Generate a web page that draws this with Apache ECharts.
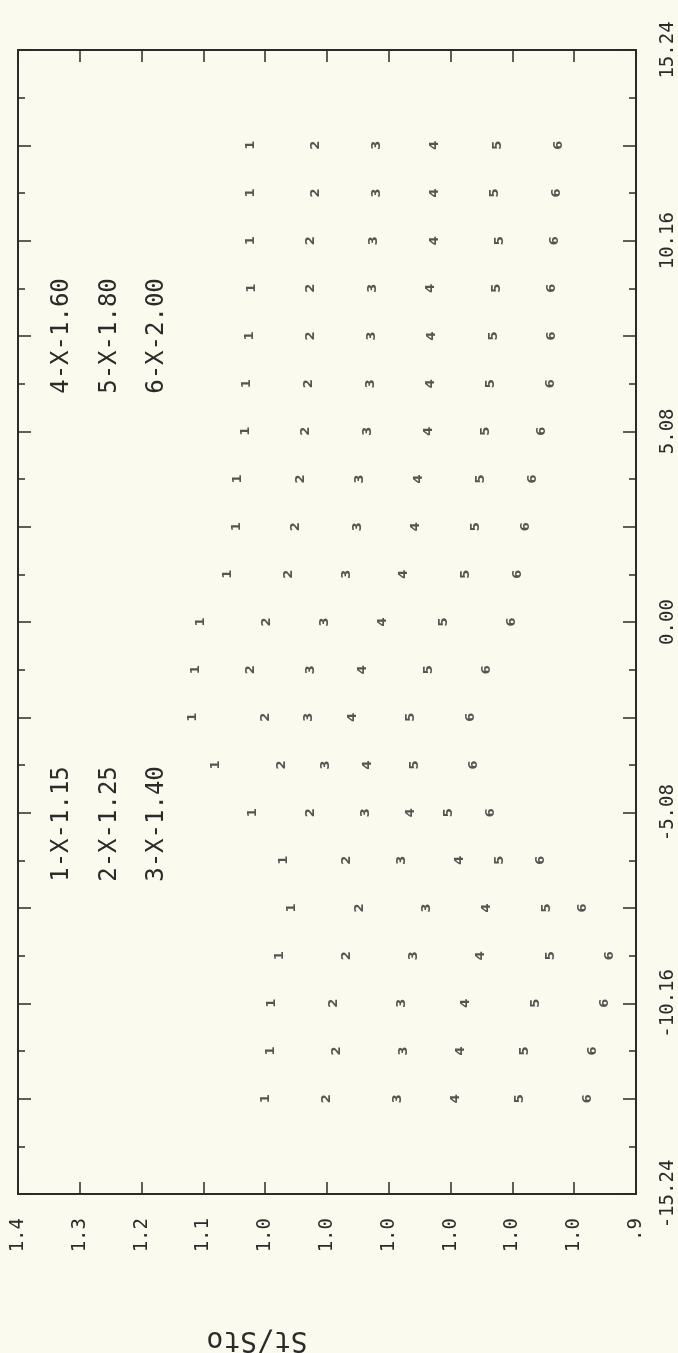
<!DOCTYPE html>
<html>
<head>
<meta charset="utf-8">
<script src="https://cdn.jsdelivr.net/npm/echarts@6/dist/echarts.min.js"></script>
<style>
  html, body { margin: 0; padding: 0; background: #fafaee; }
  #chart { width: 678px; height: 1353px; }
</style>
</head>
<body>
<div id="chart"></div>
<script>
// position along the traverse (drawn vertically, page is turned)
const positions = [-12.7, -11.43, -10.16, -8.89, -7.62, -6.35, -5.08, -3.81, -2.54, -1.27, 0,
  1.27, 2.54, 3.81, 5.08, 6.35, 7.62, 8.89, 10.16, 11.43, 12.7];

// St/Sto for each X case, same order as positions
const s1 = [1.200, 1.196, 1.195, 1.188, 1.179, 1.185, 1.210, 1.240, 1.259, 1.256, 1.252,
  1.230, 1.223, 1.222, 1.216, 1.215, 1.213, 1.211, 1.212, 1.212, 1.212];
const s2 = [1.150, 1.142, 1.145, 1.134, 1.124, 1.134, 1.163, 1.187, 1.200, 1.212, 1.199,
  1.181, 1.175, 1.171, 1.167, 1.165, 1.163, 1.163, 1.163, 1.159, 1.159];
const s3 = [1.093, 1.088, 1.090, 1.080, 1.069, 1.090, 1.119, 1.151, 1.165, 1.163, 1.152,
  1.134, 1.125, 1.124, 1.117, 1.115, 1.114, 1.113, 1.112, 1.110, 1.110];
const s4 = [1.046, 1.042, 1.038, 1.026, 1.021, 1.043, 1.082, 1.117, 1.129, 1.121, 1.105,
  1.088, 1.078, 1.076, 1.068, 1.066, 1.065, 1.066, 1.063, 1.063, 1.063];
const s5 = [0.994, 0.990, 0.981, 0.969, 0.972, 1.010, 1.052, 1.079, 1.082, 1.068, 1.056,
  1.038, 1.030, 1.026, 1.022, 1.018, 1.015, 1.013, 1.010, 1.014, 1.012];
const s6 = [0.939, 0.935, 0.925, 0.921, 0.943, 0.977, 1.018, 1.031, 1.034, 1.021, 1.001,
  0.996, 0.989, 0.984, 0.976, 0.969, 0.968, 0.968, 0.966, 0.964, 0.963];

const seriesNames = ['1-X-1.15', '2-X-1.25', '3-X-1.40', '4-X-1.60', '5-X-1.80', '6-X-2.00'];
const posLabels = ['-15.24', '-10.16', '-5.08', '0.00', '5.08', '10.16', '15.24'];
const ratioLabels = ['1.4', '1.3', '1.2', '1.1', '1.0', '1.0', '1.0', '1.0', '1.0', '1.0', '.9'];

const ink = '#2e2a2a';
const mono = 'DejaVu Sans Mono';

const chart = echarts.init(document.getElementById('chart'));

function ratioAxis(pos, withLabels) {
  return {
    type: 'value',
    position: pos,
    inverse: true,
    min: 0.9,
    max: 1.4,
    interval: 0.05,
    splitLine: { show: false },
    axisLine: { show: false, onZero: false },
    axisTick: { show: true, inside: true, length: 12, lineStyle: { color: ink, width: 1.5 } },
    axisLabel: {
      show: withLabels,
      rotate: 90,
      margin: 24,
      color: ink,
      fontFamily: mono,
      fontSize: 19,
      formatter: function (v) {
        return ratioLabels[Math.round((1.4 - v) / 0.05)];
      }
    }
  };
}

function posAxis(pos, withLabels) {
  return {
    type: 'value',
    position: pos,
    min: -15.24,
    max: 15.24,
    interval: 2.54,
    splitLine: { show: false },
    axisLine: { show: false, onZero: false },
    axisTick: { show: true, inside: true, length: 13, lineStyle: { color: ink, width: 1.5 } },
    minorTick: { show: true, splitNumber: 2, length: 7, lineStyle: { color: ink, width: 1.5 } },
    axisLabel: {
      show: withLabels,
      rotate: 90,
      margin: 23,
      color: ink,
      fontFamily: mono,
      fontSize: 19,
      formatter: function (v, i) {
        return i % 2 === 0 ? posLabels[i / 2] : '';
      }
    }
  };
}

const allSeries = [s1, s2, s3, s4, s5, s6].map(function (vals, k) {
  return {
    name: seriesNames[k],
    type: 'scatter',
    xAxisIndex: 0,
    yAxisIndex: 0,
    symbolSize: 1,
    itemStyle: { color: 'transparent' },
    data: vals.map(function (v, i) { return [v, positions[i]]; }),
    label: {
      show: true,
      position: 'inside',
      rotate: 90,
      formatter: String(k + 1),
      color: ink,
      fontFamily: 'DejaVu Sans',
      fontWeight: 'bold',
      fontSize: 13
    }
  };
});

// legend text blocks, written sideways like the plot
const legendCols = [62, 110, 157];
const legendTexts = [];
seriesNames.forEach(function (n, k) {
  legendTexts.push({
    type: 'text',
    x: legendCols[k % 3],
    y: k < 3 ? 824 : 336,
    rotation: Math.PI / 2,
    style: { text: n, font: '24px "DejaVu Sans Mono"', fill: ink, align: 'center', verticalAlign: 'middle' }
  });
});

chart.setOption({
  animation: false,
  backgroundColor: '#fafaee',
  grid: {
    left: 18, top: 50, width: 621, height: 1144,
    show: true, borderColor: ink, borderWidth: 2, backgroundColor: 'transparent'
  },
  xAxis: [ratioAxis('bottom', true), ratioAxis('top', false)],
  yAxis: [posAxis('right', true), posAxis('left', false)],
  series: allSeries,
  graphic: legendTexts.concat([{
    type: 'text',
    x: 257,
    y: 1339,
    rotation: Math.PI,
    style: { text: 'St/Sto', font: '28px "DejaVu Sans Mono"', fill: ink, align: 'center', verticalAlign: 'middle' }
  }])
});
</script>
</body>
</html>
